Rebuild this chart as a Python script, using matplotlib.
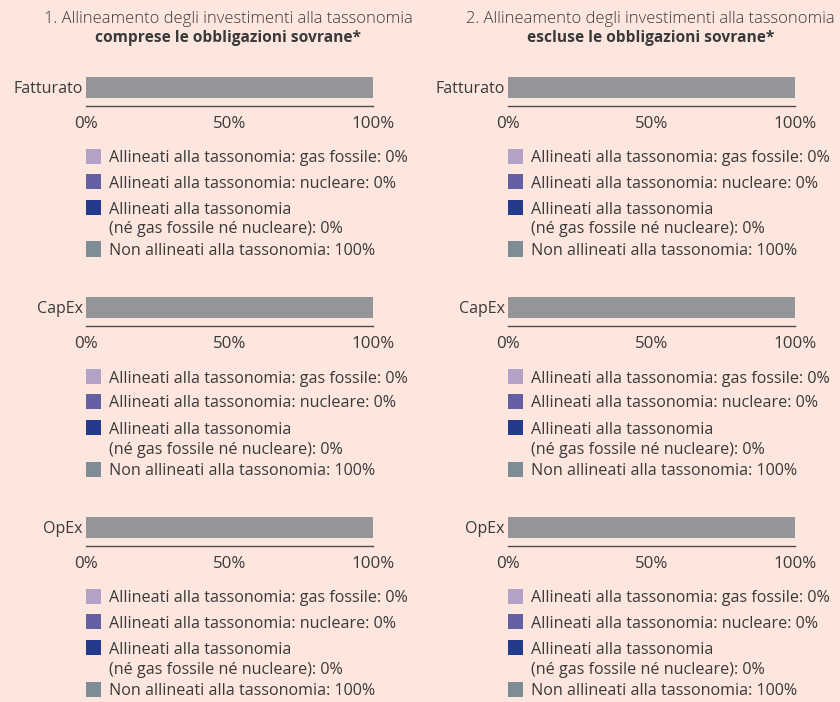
import matplotlib
matplotlib.use("Agg")
import matplotlib.pyplot as plt
from matplotlib.patches import Rectangle

# ---- data ----
panel_titles = ["1. Allineamento degli investimenti alla tassonomia",
                "2. Allineamento degli investimenti alla tassonomia"]
panel_subtitles = ["comprese le obbligazioni sovrane*",
                   "escluse le obbligazioni sovrane*"]
categories = ["Fatturato", "CapEx", "OpEx"]
series_names = ["Allineati alla tassonomia: gas fossile",
                "Allineati alla tassonomia: nucleare",
                "Allineati alla tassonomia\n(né gas fossile né nucleare)",
                "Non allineati alla tassonomia"]
# values[panel][category] -> list per series
values_panel1 = [[0, 0, 0, 100], [0, 0, 0, 100], [0, 0, 0, 100]]
values_panel2 = [[0, 0, 0, 100], [0, 0, 0, 100], [0, 0, 0, 100]]
tick_values = [0, 50, 100]
tick_labels = ["0%", "50%", "100%"]

# ---- style ----
BG = "#FDE6DD"
series_colors = ["#B3A2C6", "#645FA2", "#243A8C", "#939598"]
legend_colors = ["#B3A2C6", "#645FA2", "#243A8C", "#7D8C95"]
TXT = "#3a3a3a"
FONT = "Open Sans"

W, H = 840, 702
fig = plt.figure(figsize=(W / 100, H / 100), dpi=100, facecolor=BG)
plt.rcParams['font.family'] = [FONT, 'DejaVu Sans']


def px(x, y):
    return x / W, 1 - y / H


panel_x0 = [86, 508]
ax_w = 287
row_y0 = [70, 290, 510]   # axes top in pixels
ax_h = 36
fs_title = 11.9
fs_bold = 11.2
fs_leg = 11.6
fs_tick = 12.2
fs_cat = 11.5

for p, (vals, title, sub) in enumerate(zip([values_panel1, values_panel2],
                                            panel_titles, panel_subtitles)):
    x0 = panel_x0[p]
    cx = x0 + ax_w / 2 - 1
    fig.text(*px(cx, 19), title, ha="center", va="center", fontsize=fs_title,
             color=TXT, fontweight="light")
    fig.text(*px(cx, 38), sub, ha="center", va="center", fontsize=fs_bold,
             color=TXT, fontweight="bold")
    for r, cat in enumerate(categories):
        top = row_y0[r]
        ax = fig.add_axes([x0 / W, 1 - (top + ax_h) / H, ax_w / W, ax_h / H])
        ax.set_facecolor("none")
        left = 0
        for v, c in zip(vals[r], series_colors):
            ax.barh([cat], [v], left=left, height=0.6, color=c)
            left += v
        ax.set_xlim(0, 100)
        ax.set_ylim(-0.529, 0.5)
        for s in ["top", "right", "left"]:
            ax.spines[s].set_visible(False)
        ax.spines["bottom"].set_color("#4d4d4d")
        ax.spines["bottom"].set_linewidth(1.0)
        ax.set_xticks(tick_values)
        ax.set_xticklabels(tick_labels)
        ax.tick_params(axis="x", length=0, pad=7, labelsize=fs_tick, labelcolor=TXT)
        ax.tick_params(axis="y", length=0, pad=2.5, labelsize=fs_cat, labelcolor=TXT)
        # legend
        ly = [156.5, 181.5, 207.5, 249]
        for i, (name, col) in enumerate(zip(series_names, legend_colors)):
            base = top + 86.5
            yy = base + (ly[i] - 156.5)
            fig.patches.append(Rectangle(px(x0, yy + 7.5), 15 / W, 15 / H,
                                         transform=fig.transFigure,
                                         facecolor=col, edgecolor="none"))
            label = f"{name}: {vals[r][i]}%"
            lines = label.split("\n")
            for k, ln in enumerate(lines):
                fig.text(*px(x0 + 23, yy + 2 + k * 20), ln, ha="left", va="center",
                         fontsize=fs_leg, color=TXT)

fig.savefig("out.png", dpi=100, facecolor=BG)
